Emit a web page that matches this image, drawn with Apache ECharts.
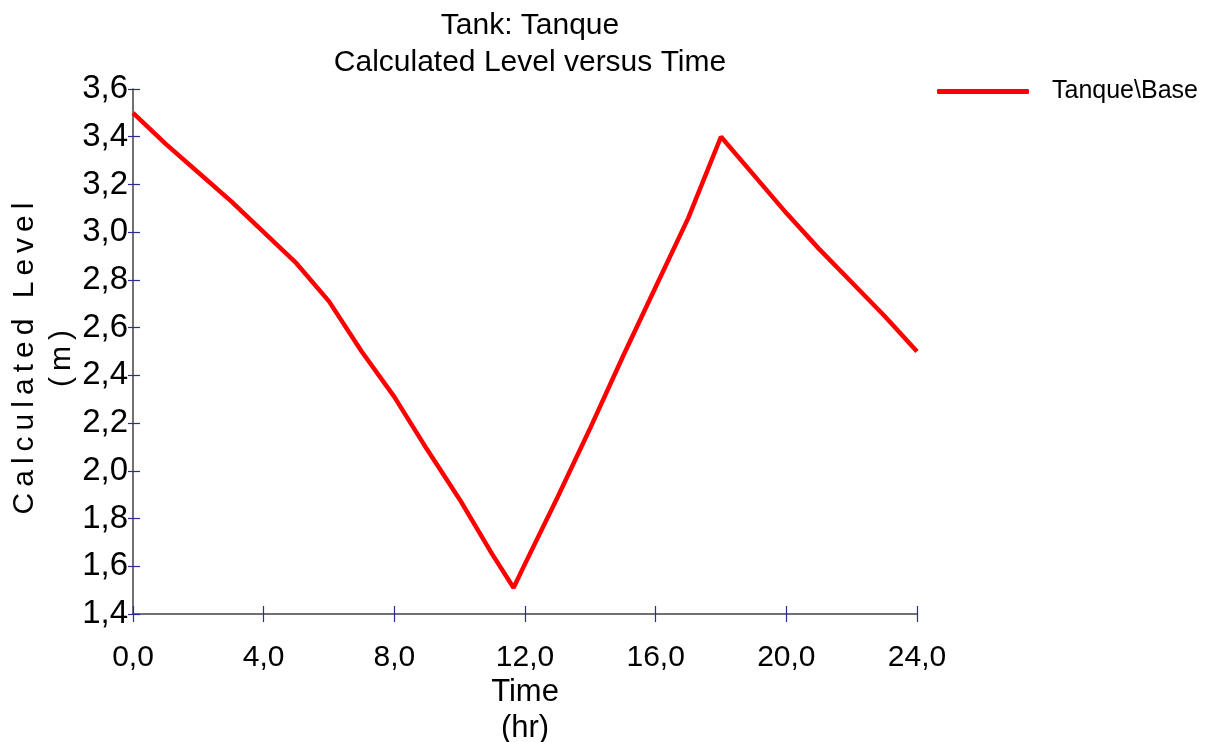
<!DOCTYPE html>
<html>
<head>
<meta charset="utf-8">
<script src="https://cdn.jsdelivr.net/npm/echarts@6/dist/echarts.min.js"></script>
<style>
html,body{margin:0;padding:0;background:#fff;}
#chart{width:1207px;height:742px;}
</style>
</head>
<body>
<div id="chart"></div>
<script>
// ---- data ----
const titleLines = ['Tank: Tanque', 'Calculated Level versus Time'];
const seriesName = 'Tanque\\Base';
const xAxisTitle = ['Time', '(hr)'];
const yAxisTitle = ['Calculated Level', '(m)'];
const times  = [0, 1, 2, 3, 4, 5, 6, 7, 8, 9, 10, 11, 11.65, 12, 13, 14, 15, 16, 17, 18, 19, 20, 21, 22, 23, 24];
const levels = [3.50, 3.37, 3.25, 3.13, 3.00, 2.87, 2.71, 2.50, 2.31, 2.09, 1.88, 1.65, 1.51, 1.61, 1.89, 2.18, 2.48, 2.77, 3.06, 3.40, 3.24, 3.08, 2.93, 2.79, 2.65, 2.50];
const xTicks = { min: 0, max: 24, interval: 4 };
const yTicks = { min: 1.4, max: 3.6, interval: 0.2 };

const points = times.map((t, i) => [t, levels[i]]);
const fmt = v => v.toFixed(1).replace('.', ',');
const spaced = s => s.split('').join('\u2009');

const FONT = "'Liberation Sans', Arial, sans-serif";
const tickColor = '#2a2a9a';
const lineColor = '#404048';

const chart = echarts.init(document.getElementById('chart'), null, { renderer: 'canvas' });
chart.setOption({
  animation: false,
  backgroundColor: '#ffffff',
  title: {
    text: titleLines.join('\n'),
    left: 525,
    textAlign: 'center',
    top: 2,
    textStyle: { fontFamily: FONT, fontSize: 30, fontWeight: 'normal', color: '#000', lineHeight: 37 }
  },
  legend: {
    data: [seriesName],
    left: 937,
    top: 79,
    padding: 0,
    icon: 'roundRect',
    itemWidth: 92,
    itemHeight: 5,
    itemStyle: { color: '#ff0000' },
    textStyle: { fontFamily: FONT, fontSize: 25, color: '#000', padding: [0, 0, 0, 18] }
  },
  grid: {
    left: 133, right: 290, top: 89, bottom: 128,
    containLabel: false,
    outerBoundsMode: 'none'
  },
  xAxis: [{
    type: 'value',
    min: xTicks.min, max: xTicks.max, interval: xTicks.interval,
    position: 'bottom',
    name: xAxisTitle.join('\n'),
    nameLocation: 'middle',
    nameGap: 60,
    nameMoveOverlap: false,
    nameTextStyle: { fontFamily: FONT, fontSize: 31, color: '#000', lineHeight: 36 },
    axisLine: { show: true, lineStyle: { color: lineColor, width: 1.5 } },
    axisTick: { show: true, inside: false, length: 8, lineStyle: { color: tickColor, width: 1.2 } },
    axisLabel: { formatter: fmt, fontFamily: FONT, fontSize: 30, color: '#000', margin: 29 },
    splitLine: { show: false }
  }, {
    type: 'value',
    min: xTicks.min, max: xTicks.max, interval: xTicks.interval,
    position: 'bottom',
    axisLine: { show: false },
    axisTick: { show: true, inside: true, length: 8, lineStyle: { color: tickColor, width: 1.2 } },
    axisLabel: { show: false },
    splitLine: { show: false }
  }],
  yAxis: [{
    type: 'value',
    min: yTicks.min, max: yTicks.max, interval: yTicks.interval,
    position: 'left',
    name: yAxisTitle.map(spaced).join('\n'),
    nameLocation: 'middle',
    nameRotate: 90,
    nameGap: 53,
    nameMoveOverlap: false,
    nameTextStyle: { fontFamily: FONT, fontSize: 30, color: '#000', lineHeight: 37, padding: [0, 14, 0, 0] },
    axisLine: { show: true, lineStyle: { color: lineColor, width: 1.5 } },
    axisTick: { show: true, inside: false, length: 5, lineStyle: { color: tickColor, width: 1.2 } },
    axisLabel: { formatter: fmt, fontFamily: FONT, fontSize: 33, color: '#000', margin: 5 },
    splitLine: { show: false }
  }, {
    type: 'value',
    min: yTicks.min, max: yTicks.max, interval: yTicks.interval,
    position: 'left',
    axisLine: { show: false },
    axisTick: { show: true, inside: true, length: 7, lineStyle: { color: tickColor, width: 1.2 } },
    axisLabel: { show: false },
    splitLine: { show: false }
  }],
  series: [{
    name: seriesName,
    type: 'line',
    xAxisIndex: 0,
    yAxisIndex: 0,
    data: points,
    symbol: 'none',
    smooth: false,
    lineStyle: { color: '#ff0000', width: 4.5 },
    itemStyle: { color: '#ff0000' }
  }]
});
</script>
</body>
</html>
